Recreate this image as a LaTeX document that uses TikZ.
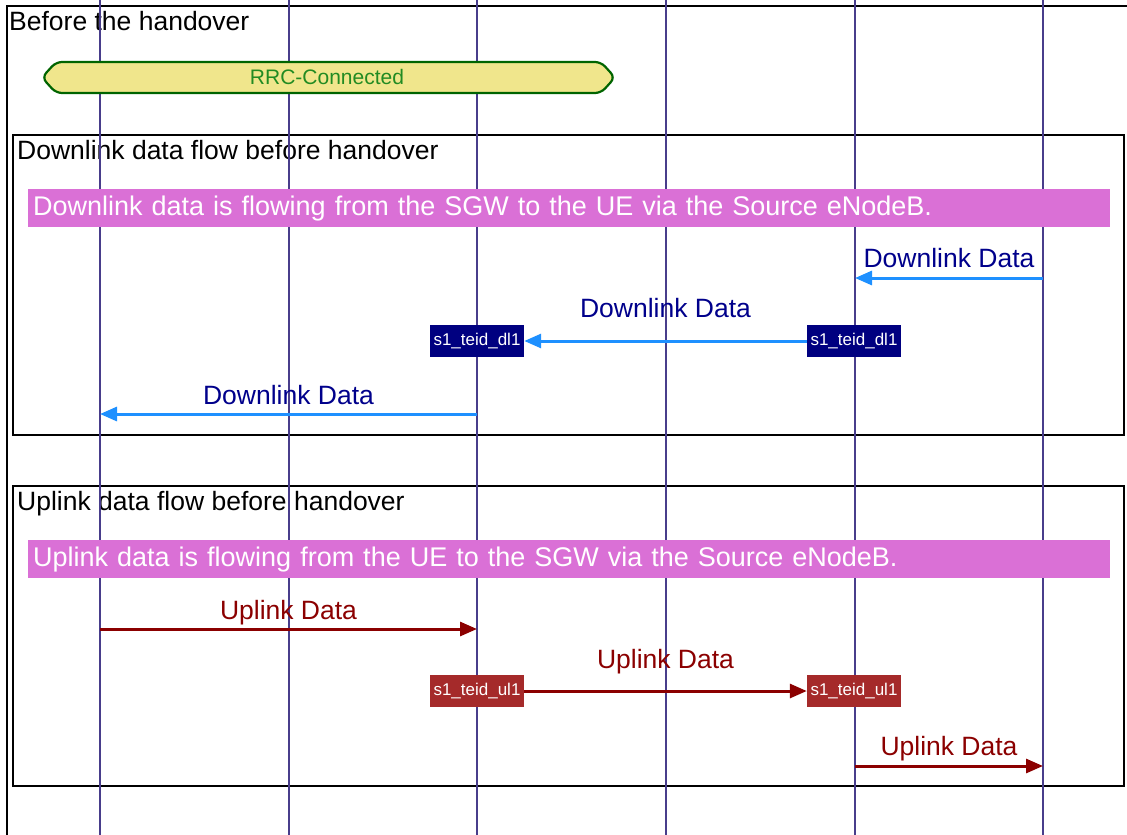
\documentclass[tikz,border=0pt]{standalone}
\usepackage{fontspec}
\setmainfont{Liberation Sans}
\usepackage{tikz}
\usetikzlibrary{arrows.meta,positioning}
\definecolor{lifecol}{HTML}{483D8B}
\definecolor{dlcol}{HTML}{1E90FF}
\definecolor{dltext}{HTML}{00008B}
\definecolor{ulcol}{HTML}{8B0000}
\definecolor{notecol}{HTML}{DA70D6}
\definecolor{rrcfill}{HTML}{F0E68C}
\definecolor{rrcline}{HTML}{006400}
\definecolor{rrctext}{HTML}{228B22}
\definecolor{teiddl}{HTML}{000080}
\definecolor{teidul}{HTML}{A52A2A}

\begin{document}
\begin{tikzpicture}[x=1pt, y=1pt,
      big/.style={font=\fontsize{26.5}{30}\selectfont},
      title/.style={big, anchor=base west, inner sep=0},
      frame/.style={draw=black, line width=2.2pt},
      lifeline/.style={draw=lifecol, line width=1.5pt},
      note/.style={font=\fontsize{27}{31}\selectfont, fill=notecol, text=white, anchor=north west,
                   minimum height=38pt, text width=1072pt, inner xsep=5pt, align=left},
      teid/.style={font=\fontsize{17}{20}\selectfont, text=white, minimum width=94pt,
                   minimum height=32pt, inner sep=0},
      dlmsg/.style={draw=dlcol, line width=3pt, -{Triangle[length=17pt,width=14pt]}},
      ulmsg/.style={draw=ulcol, line width=3pt, -{Triangle[length=17pt,width=14pt]}},
      dllabel/.style={big, text=dltext, anchor=base},
      ullabel/.style={big, text=ulcol, anchor=base}]
      \useasboundingbox (0,0) rectangle (1127,-835);
      % frames and titles
      \draw[frame] (1135,-6) -- (7,-6) -- (7,-845);
      \draw[frame] (13,-135) rectangle (1124,-435)
                   (13,-486) rectangle (1124,-786);
      \node[title] (before) at (9,-30) {Before the handover};
      \node[title] (dltitle) at (17,-159) {Downlink data flow before handover};
      \node[title] (ultitle) at (17,-510) {Uplink data flow before handover};
      % lifelines
      \foreach \x/\n in {100/ue, 289/tenb, 477/senb, 666/mme, 855/sgw, 1043/pgw} {
        \coordinate (\n top) at (\x,0);
        \coordinate (\n bot) at (\x,-835);
        \draw[lifeline] (\n top) -- (\n bot);
      }
      % state
      \draw[fill=rrcfill, draw=rrcline, line width=2.2pt, rounded corners=6pt]
            (56,-62) -- (601,-62) -- (615,-77.5) -- (601,-93) -- (56,-93) -- (42,-77.5) -- cycle;
      \node[font=\fontsize{21}{24}\selectfont, text=rrctext] (rrc) at (327,-76.5) {RRC-Connected};
      % notes
      \node[note] (dlnote) at (28,-189) {Downlink data is flowing from the SGW to the UE via the Source eNodeB.};
      \node[note] (ulnote) at (28,-540) {Uplink data is flowing from the UE to the SGW via the Source eNodeB.};
      % tunnel ids
      \node[teid, fill=teiddl] (dlteid sgw) at (854,-341) {s1\_teid\_dl1};
      \node[teid, fill=teiddl] (dlteid enb) at (477,-341) {s1\_teid\_dl1};
      \node[teid, fill=teidul] (ulteid enb) at (477,-691) {s1\_teid\_ul1};
      \node[teid, fill=teidul] (ulteid sgw) at (854,-691) {s1\_teid\_ul1};
      % message ends
      \coordinate (dl1 a) at (1043,-278);  \coordinate (dl1 b) at (855,-278);
      \coordinate (dl3 a) at (477,-414);   \coordinate (dl3 b) at (100,-414);
      \coordinate (ul1 a) at (100,-629);   \coordinate (ul1 b) at (477,-629);
      \coordinate (ul3 a) at (855,-766);   \coordinate (ul3 b) at (1043,-766);
      % downlink
      \draw[dlmsg] (dl1 a) -- (dl1 b) node[dllabel, pos=.5, yshift=11pt] (dl1) {Downlink Data};
      \draw[dlmsg] (dlteid sgw) -- (dlteid enb) node[dllabel, pos=.5, yshift=24pt] (dl2) {Downlink Data};
      \draw[dlmsg] (dl3 a) -- (dl3 b) node[dllabel, pos=.5, yshift=10pt] (dl3) {Downlink Data};
      % uplink
      \draw[ulmsg] (ul1 a) -- (ul1 b) node[ullabel, pos=.5, yshift=10pt] (ul1) {Uplink Data};
      \draw[ulmsg] (ulteid enb) -- (ulteid sgw) node[ullabel, pos=.5, yshift=23pt] (ul2) {Uplink Data};
      \draw[ulmsg] (ul3 a) -- (ul3 b) node[ullabel, pos=.5, yshift=11pt] (ul3) {Uplink Data};
\end{tikzpicture}
\end{document}
